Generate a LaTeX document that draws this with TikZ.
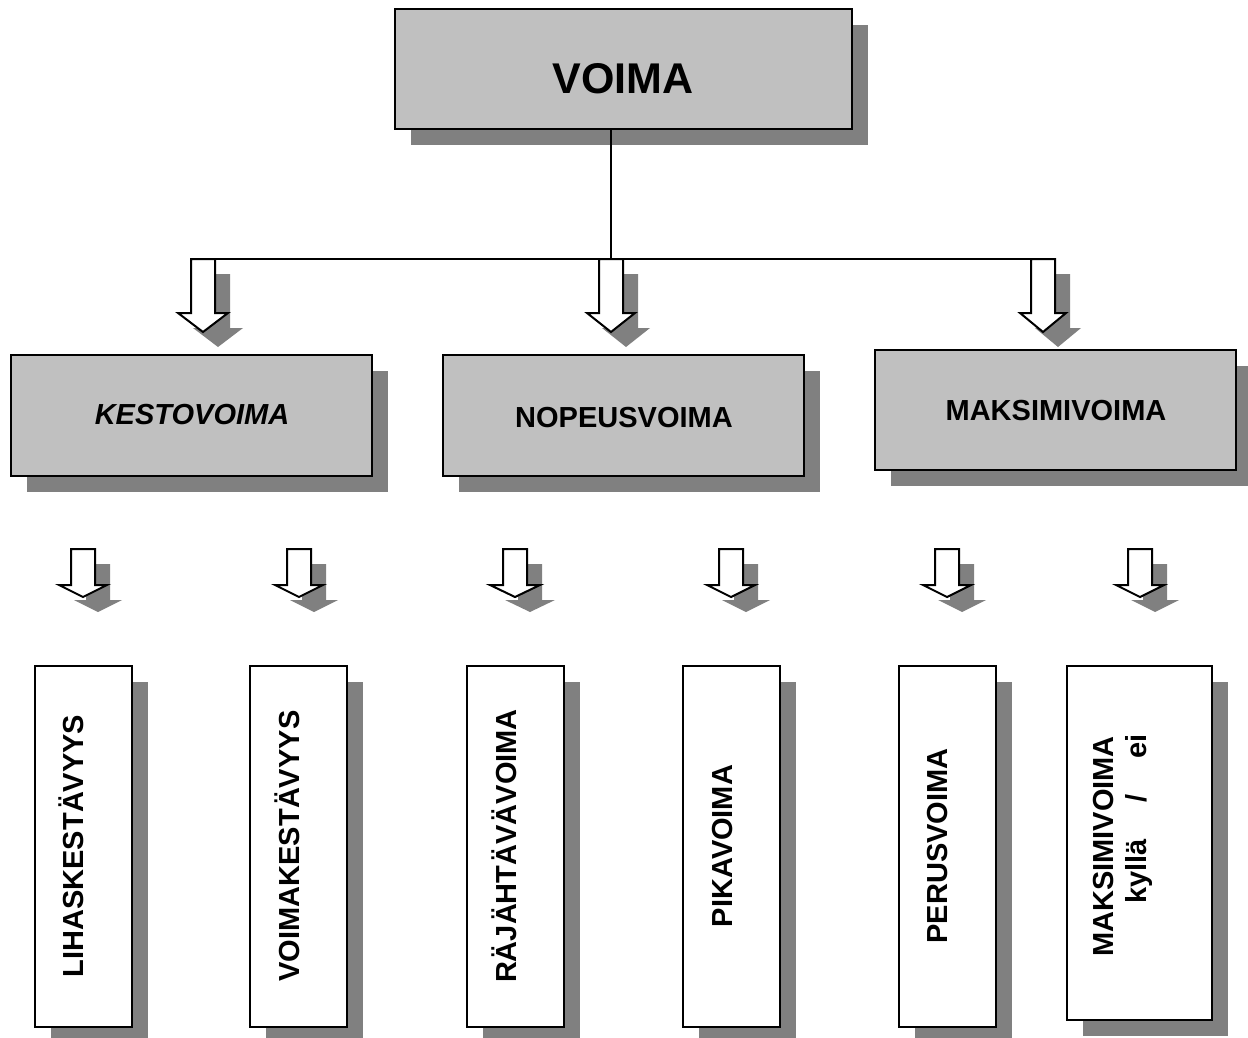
\documentclass[tikz,border=0pt]{standalone}
\usepackage{fontspec}
\setmainfont{Liberation Sans}
\usetikzlibrary{shadows}
\definecolor{boxgray}{HTML}{C0C0C0}
\definecolor{shadowgray}{HTML}{808080}
% cx, top, headstart, tip, halfshaft, halfwing
\newcommand{\blockarrow}[6]{%
  \fill[shadowgray,shift={(15,15)}] (#1-#5,#2) -- (#1+#5,#2) -- (#1+#5,#3) -- (#1+#6,#3) -- (#1,#4) -- (#1-#6,#3) -- (#1-#5,#3) -- cycle;
  \draw[arrowline] (#1-#5,#2) -- (#1+#5,#2) -- (#1+#5,#3) -- (#1+#6,#3) -- (#1,#4) -- (#1-#6,#3) -- (#1-#5,#3) -- cycle;
}
\tikzset{
  boxbase/.style={draw=black, line width=2pt, inner sep=0pt,
    drop shadow={shadow xshift=16pt, shadow yshift=-16pt, fill=shadowgray, opacity=1, draw=none}},
  graybox/.style={boxbase, fill=boxgray, minimum width=361pt, minimum height=121pt},
  whitebox/.style={boxbase, fill=white, minimum width=97pt, minimum height=361pt},
  lbl/.style={font=\bfseries\fontsize{29}{33}\selectfont, text height=21pt, text depth=0pt, inner sep=0pt},
  vlbl/.style={lbl, rotate=90},
  arrowline/.style={draw=black, fill=white, line width=2pt, line join=miter},
  connector/.style={draw=black, line width=1.5pt}
}
\begin{document}
\begin{tikzpicture}[x=1pt,y=-1pt]
\useasboundingbox (0,0) rectangle (1248,1038);
\fill[white] (0,0) rectangle (1248,1038);

% top box
\node[boxbase, fill=boxgray, minimum width=457pt, minimum height=120pt] (voima) at (623.5,69) {};
\node[inner sep=0pt, font=\bfseries\fontsize{43}{50}\selectfont, text height=31pt, text depth=0pt] (voimat) at (623,78) {VOIMA};

% connectors
\coordinate (jn) at (611,259);
\coordinate (hl) at (191,259);
\coordinate (hr) at (1055,259);
\draw[connector] (voima.south -| jn) -- (jn);
\draw[connector] (hl) -- (hr);

% large block arrows
\blockarrow{203}{259}{313}{332}{12}{25}
\blockarrow{611}{259}{313}{332}{12}{24}
\blockarrow{1043}{259}{313}{332}{12}{23}

% second level boxes
\node[graybox] (kesto) at (191.5,415.5) {};
\node[lbl, font=\bfseries\itshape\fontsize{29}{33}\selectfont] (kestot) at (192,414) {KESTOVOIMA};
\node[graybox] (nopeus) at (623.5,415.5) {};
\node[lbl] (nopeust) at (624,417) {NOPEUSVOIMA};
\node[graybox, minimum height=120pt] (maksimi) at (1055.5,410) {};
\node[lbl] (maksimit) at (1056,410) {MAKSIMIVOIMA};

% small block arrows
\blockarrow{83}{549}{585}{597}{12}{24}
\blockarrow{299}{549}{585}{597}{12}{24}
\blockarrow{515}{549}{585}{597}{12}{25}
\blockarrow{731}{549}{585}{597}{12}{24}
\blockarrow{947}{549}{585}{597}{12}{24}
\blockarrow{1140}{549}{585}{597}{12}{24}

% bottom boxes
\node[whitebox] (lihas) at (83.5,846.5) {};
\node[vlbl] (lihast) at (73,846) {LIHASKESTÄVYYS};
\node[whitebox] (voimak) at (298.5,846.5) {};
\node[vlbl] (voimakt) at (289,846) {VOIMAKESTÄVYYS};
\node[whitebox] (rajah) at (515,846.5) {};
\node[vlbl] (rajaht) at (505.5,846) {RÄJÄHTÄVÄVOIMA};
\node[whitebox] (pika) at (731.5,846.5) {};
\node[vlbl] (pikat) at (721.5,846) {PIKAVOIMA};
\node[whitebox] (perus) at (947,846.5) {};
\node[vlbl] (perust) at (937,846) {PERUSVOIMA};
\node[whitebox, minimum width=145pt, minimum height=354pt] (maks2) at (1139.5,843) {};
\node[vlbl] (maks2a) at (1102.5,846.5) {MAKSIMIVOIMA};
\node[vlbl] (maks2b) at (1135.5,819) {kyllä\hspace{36pt}/\hspace{36pt}ei};
\end{tikzpicture}
\end{document}
